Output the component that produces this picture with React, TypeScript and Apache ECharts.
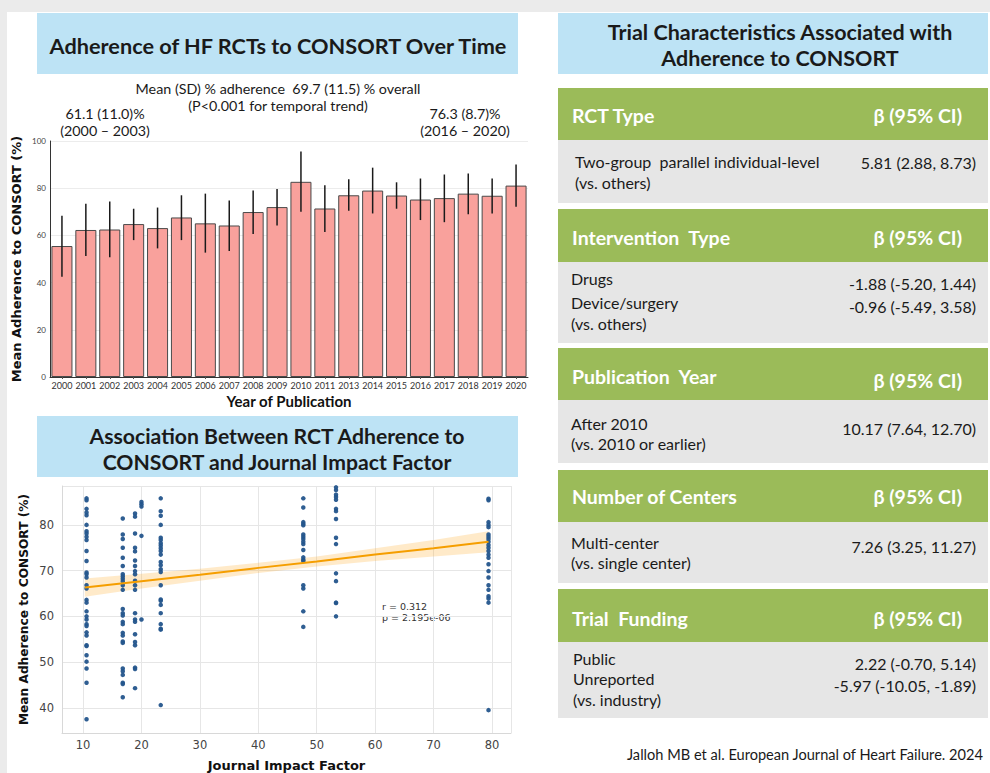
import React, { useEffect, useRef } from 'react';
import * as echarts from 'echarts';

// ---------- Bar chart data ----------
const years = ['2000', '2001', '2002', '2003', '2004', '2005', '2006', '2007', '2008', '2009', '2010', '2011', '2013', '2014', '2015', '2016', '2017', '2018', '2019', '2020'];
const meanAdherence = [55.5, 62.3, 62.5, 64.8, 63.1, 67.6, 65.1, 64.2, 69.9, 72.0, 82.7, 71.4, 77.0, 79.0, 76.9, 75.2, 75.8, 77.7, 76.8, 81.1];
const errLow = [42.5, 51.3, 50.7, 58.0, 54.5, 58.0, 52.7, 53.4, 60.6, 64.2, 70.0, 61.4, 70.4, 69.3, 71.3, 66.5, 65.6, 69.0, 69.3, 72.1];
const errHigh = [68.3, 73.4, 74.4, 71.3, 71.8, 77.0, 77.7, 74.8, 79.0, 79.7, 95.6, 81.3, 83.8, 88.7, 82.5, 84.1, 85.8, 86.2, 84.1, 90.0];

// ---------- Scatter data ----------
const jifX = [10.6, 16.8, 18.9, 20.0, 23.3, 47.7, 53.3, 79.4];
const adh106 = [85.8, 85.4, 83.5, 82.7, 82.1, 80.0, 78.6, 78.1, 77.4, 76.7, 74.3, 72.1, 69.6, 69.2, 68.5, 66.8, 66.1, 63.6, 63.0, 61.1, 60.0, 59.3, 58.3, 57.9, 56.5, 55.8, 53.7, 53.5, 51.5, 50.1, 48.6, 45.5, 37.5];
const adh168 = [81.4, 77.9, 76.9, 75.0, 72.8, 71.0, 69.2, 68.7, 68.2, 67.7, 66.8, 65.8, 61.6, 60.7, 60.2, 58.8, 58.3, 56.4, 55.8, 54.5, 54.2, 48.6, 48.0, 47.2, 45.5, 45.2, 42.3];
const adh189 = [82.5, 81.8, 78.1, 75.0, 74.2, 72.2, 71.0, 69.9, 69.2, 67.8, 66.8, 65.8, 60.7, 59.3, 58.8, 56.1, 54.4, 53.7, 48.8, 48.5, 44.3];
const adh200 = [85.0, 84.5, 84.0, 77.6, 59.3];
const adh233 = [85.8, 83.0, 82.0, 80.0, 77.2, 76.7, 76.0, 75.5, 74.9, 74.3, 73.5, 71.9, 71.2, 70.3, 69.7, 66.8, 63.7, 63.4, 62.5, 60.7, 58.3, 57.3, 57.1, 40.6];
const adh477 = [85.8, 83.8, 80.6, 80.2, 79.9, 77.9, 77.4, 76.9, 76.3, 75.8, 74.5, 72.9, 72.4, 72.1, 66.8, 66.1, 61.1, 57.7];
const adh533 = [88.2, 87.6, 86.6, 86.1, 85.5, 83.5, 83.0, 81.3, 77.2, 75.8, 69.4, 67.7, 63.0, 62.9, 60.0];
const adh794 = [85.7, 85.4, 80.6, 80.0, 79.5, 77.9, 77.4, 76.9, 76.3, 75.6, 75.0, 74.3, 73.5, 72.8, 71.4, 69.9, 68.5, 66.8, 65.8, 64.4, 63.9, 63.0, 39.5];
const adhByJournal = [adh106, adh168, adh189, adh200, adh233, adh477, adh533, adh794];

const regX = [10.3, 20, 30, 40, 50, 60, 70, 79.4];
const regY = [66.3, 67.7, 69.1, 70.6, 72.0, 73.5, 74.9, 76.3];
const ciLow = [64.3, 66.1, 67.8, 69.5, 70.9, 72.1, 73.1, 74.0];
const ciHigh = [68.3, 69.3, 70.4, 71.7, 73.1, 74.9, 76.7, 78.6];

const F = 'Lato, "Open Sans", sans-serif';
const DJ = '"DejaVu Sans", sans-serif';

type TOpt = { size?: number; weight?: string; color?: string; align?: string; family?: string };
function txt(text: string, x: number, y: number, o: TOpt = {}) {
  const align = o.align || 'left';
  return {
    type: 'text',
    x,
    y,
    silent: true,
    style: {
      text,
      fontSize: o.size || 15,
      fontWeight: o.weight || 'normal',
      fontFamily: o.family || F,
      fill: o.color || '#1a1a1a',
      textAlign: align,
      align,
      textVerticalAlign: 'middle',
      verticalAlign: 'middle',
    },
  };
}

const GREEN = '#9bbb59';
const BODY = '#e6e6e6';
const BLUE = '#bde3f5';

function buildGraphics() {
  const g: any[] = [];
  // title boxes
  g.push({ type: 'rect', shape: { x: 37, y: 13, width: 481, height: 61 }, style: { fill: BLUE }, silent: true });
  g.push(txt('Adherence of HF RCTs to CONSORT Over Time', 278, 46, { size: 21.7, weight: 'bold', align: 'center' }));
  g.push(txt('Mean (SD) % adherence  69.7 (11.5) % overall', 278, 88, { size: 14.3, align: 'center' }));
  g.push(txt('(P<0.001 for temporal trend)', 278, 105, { size: 14.3, align: 'center' }));
  g.push(txt('61.1 (11.0)%', 105, 113, { size: 14.3, align: 'center' }));
  g.push(txt('(2000 – 2003)', 105, 130, { size: 14.3, align: 'center' }));
  g.push(txt('76.3 (8.7)%', 465, 113, { size: 14.3, align: 'center' }));
  g.push(txt('(2016 – 2020)', 465, 130, { size: 14.3, align: 'center' }));

  g.push({ type: 'rect', shape: { x: 37, y: 416, width: 481, height: 61 }, style: { fill: BLUE }, silent: true });
  g.push(txt('Association Between RCT Adherence to', 277, 436, { size: 21.2, weight: 'bold', align: 'center' }));
  g.push(txt('CONSORT and Journal Impact Factor', 277, 462, { size: 21.2, weight: 'bold', align: 'center' }));
  g.push(txt('r = 0.312', 382, 606, { size: 9.5, family: DJ, color: '#333' }));
  g.push(txt('p = 2.195e-06', 382, 617, { size: 9.5, family: DJ, color: '#333' }));

  // right panel
  g.push({ type: 'rect', shape: { x: 558, y: 13, width: 430, height: 61 }, style: { fill: BLUE }, silent: true });
  g.push(txt('Trial Characteristics Associated with', 780, 32, { size: 21.5, weight: 'bold', align: 'center' }));
  g.push(txt('Adherence to CONSORT', 780, 58, { size: 21.5, weight: 'bold', align: 'center' }));

  const sections = [
    { head: 'RCT Type', hy: 88, hty: 115, by: 140, bb: 203, labels: [['Two-group  parallel individual-level', 161], ['(vs. others)', 182]], lx: 575, values: [['5.81 (2.88, 8.73)', 162]] },
    { head: 'Intervention  Type', hy: 209, hty: 237, by: 262, bb: 343, labels: [['Drugs', 278], ['Device/surgery', 302], ['(vs. others)', 323]], lx: 571, values: [['-1.88 (-5.20, 1.44)', 283], ['-0.96 (-5.49, 3.58)', 306]] },
    { head: 'Publication  Year', hy: 348, hty: 376, by: 400, bb: 463, labels: [['After 2010', 423], ['(vs. 2010 or earlier)', 443]], lx: 571, values: [['10.17 (7.64, 12.70)', 428]] },
    { head: 'Number of Centers', hy: 470, hty: 496, by: 522, bb: 583, labels: [['Multi-center', 542], ['(vs. single center)', 562]], lx: 571, values: [['7.26 (3.25, 11.27)', 546]] },
    { head: 'Trial  Funding', hy: 589, hty: 618, by: 642, bb: 718, labels: [['Public', 658], ['Unreported', 678], ['(vs. industry)', 699]], lx: 573, values: [['2.22 (-0.70, 5.14)', 663], ['-5.97 (-10.05, -1.89)', 685]] },
  ];
  sections.forEach((s) => {
    g.push({ type: 'rect', shape: { x: 558, y: s.hy, width: 430, height: s.by - s.hy }, style: { fill: GREEN }, silent: true });
    g.push({ type: 'rect', shape: { x: 558, y: s.by, width: 430, height: s.bb - s.by }, style: { fill: BODY }, silent: true });
    g.push(txt(s.head, 572, s.hty, { size: 19.5, weight: 'bold', color: '#ffffff' }));
    g.push(txt('β (95% CI)', 962, s.hty + (s.head.startsWith('Pub') ? 4 : 0), { size: 19.5, weight: 'bold', color: '#ffffff', align: 'right' }));
    s.labels.forEach((l) => g.push(txt(l[0] as string, s.lx, l[1] as number, { size: 16 })));
    s.values.forEach((v) => g.push(txt(v[0] as string, 976, v[1] as number, { size: 16, align: 'right' })));
  });
  g.push(txt('Jalloh MB et al. European Journal of Heart Failure. 2024', 627, 754, { size: 14.6 }));
  return g;
}

function buildOption(): any {
  const scatterData: number[][] = [];
  jifX.forEach((x, i) => adhByJournal[i].forEach((y) => scatterData.push([x, y])));

  return {
    animation: false,
    backgroundColor: 'transparent',
    graphic: { elements: buildGraphics() },
    grid: [
      { left: 50, top: 141, width: 478, height: 236 },
      { left: 62, top: 486, width: 449, height: 254 },
    ],
    xAxis: [
      {
        type: 'category',
        gridIndex: 0,
        data: years,
        name: 'Year of Publication',
        nameLocation: 'middle',
        nameGap: 16,
        nameTextStyle: { fontFamily: F, fontWeight: 'bold', fontSize: 15, color: '#111' },
        axisLine: { lineStyle: { color: '#333', width: 1 } },
        axisTick: { show: true, alignWithLabel: true, length: 2, lineStyle: { color: '#555' } },
        axisLabel: { interval: 0, fontSize: 9, fontFamily: F, color: '#333', margin: 4 },
        splitLine: { show: false },
      },
      {
        type: 'value',
        gridIndex: 1,
        min: 6.4,
        max: 83.25,
        splitNumber: 8,
        minInterval: 10,
        maxInterval: 10,
        name: 'Journal Impact Factor',
        nameLocation: 'middle',
        nameGap: 26,
        nameTextStyle: { fontFamily: DJ, fontWeight: 'bold', fontSize: 13, color: '#111' },
        axisLine: { show: true, lineStyle: { color: '#d8d8d8' } },
        axisTick: { show: false },
        axisLabel: {
          fontSize: 11.5,
          fontFamily: DJ,
          color: '#444',
          margin: 6,
          showMinLabel: false,
          showMaxLabel: false,
          formatter: (v: number) => (Math.abs(v % 10) < 1e-6 ? String(v) : ''),
        },
        splitLine: { show: true, lineStyle: { color: '#e6e6e6' } },
      },
    ],
    yAxis: [
      {
        type: 'value',
        gridIndex: 0,
        min: 0,
        max: 100,
        interval: 20,
        name: 'Mean Adherence to CONSORT (%)',
        nameLocation: 'middle',
        nameGap: 27,
        nameTextStyle: { fontFamily: DJ, fontWeight: 'bold', fontSize: 13, color: '#111' },
        axisLine: { show: true, lineStyle: { color: '#333' } },
        axisTick: { show: false },
        axisLabel: { fontSize: 8, fontFamily: F, color: '#444', margin: 4 },
        splitLine: { show: true, lineStyle: { color: '#ececec' } },
      },
      {
        type: 'value',
        gridIndex: 1,
        min: 34.5,
        max: 88.5,
        splitNumber: 5,
        minInterval: 10,
        maxInterval: 10,
        name: 'Mean Adherence to CONSORT (%)',
        nameLocation: 'middle',
        nameGap: 32,
        nameTextStyle: { fontFamily: DJ, fontWeight: 'bold', fontSize: 12.2, color: '#111' },
        axisLine: { show: true, lineStyle: { color: '#d8d8d8' } },
        axisTick: { show: false },
        axisLabel: {
          fontSize: 11.5,
          fontFamily: DJ,
          color: '#444',
          margin: 8,
          showMinLabel: false,
          showMaxLabel: false,
          formatter: (v: number) => (Math.abs(v % 10) < 1e-6 ? String(v) : ''),
        },
        splitLine: { show: true, lineStyle: { color: '#e6e6e6' } },
      },
    ],
    series: [
      {
        type: 'bar',
        xAxisIndex: 0,
        yAxisIndex: 0,
        data: meanAdherence,
        barCategoryGap: '12%',
        itemStyle: { color: '#f9a19c', borderColor: '#4a4a4a', borderWidth: 1 },
        z: 2,
      },
      {
        type: 'custom',
        xAxisIndex: 0,
        yAxisIndex: 0,
        data: years.map((_, i) => [i, errLow[i], errHigh[i]]),
        encode: { x: 0, y: [1, 2] },
        z: 3,
        renderItem: (_p: any, api: any) => {
          const a = api.coord([api.value(0), api.value(1)]);
          const b = api.coord([api.value(0), api.value(2)]);
          return {
            type: 'line',
            shape: { x1: a[0], y1: a[1], x2: b[0], y2: b[1] },
            style: { stroke: '#1a1a1a', lineWidth: 1.5 },
          };
        },
      },
      {
        type: 'custom',
        xAxisIndex: 1,
        yAxisIndex: 1,
        data: [[regX[0], ciLow[0]]],
        z: 1,
        silent: true,
        renderItem: (_p: any, api: any) => {
          const pts: number[][] = [];
          regX.forEach((x, i) => pts.push(api.coord([x, ciHigh[i]])));
          for (let i = regX.length - 1; i >= 0; i--) pts.push(api.coord([regX[i], ciLow[i]]));
          return { type: 'polygon', shape: { points: pts }, style: { fill: 'rgba(255,170,40,0.25)' } };
        },
      },
      {
        type: 'scatter',
        xAxisIndex: 1,
        yAxisIndex: 1,
        data: scatterData,
        symbolSize: 4.5,
        itemStyle: { color: '#24558c', opacity: 0.95 },
        z: 2,
      },
      {
        type: 'line',
        xAxisIndex: 1,
        yAxisIndex: 1,
        data: regX.map((x, i) => [x, regY[i]]),
        showSymbol: false,
        lineStyle: { color: '#f59e00', width: 2 },
        z: 3,
      },
    ],
  };
}

export default function App() {
  const ref = useRef<HTMLDivElement>(null);
  useEffect(() => {
    document.body.style.margin = '0';
    const chart = echarts.init(ref.current as HTMLDivElement, null, { renderer: 'svg' });
    chart.setOption(buildOption());
    return () => chart.dispose();
  }, []);
  return (
    <div style={{ position: 'relative', width: 990, height: 773, background: '#ebebeb', overflow: 'hidden' }}>
      <div style={{ position: 'absolute', left: 7, top: 12, width: 983, height: 761, background: '#ffffff' }} />
      <div ref={ref} style={{ position: 'absolute', left: 0, top: 0, width: 990, height: 773 }} />
    </div>
  );
}
